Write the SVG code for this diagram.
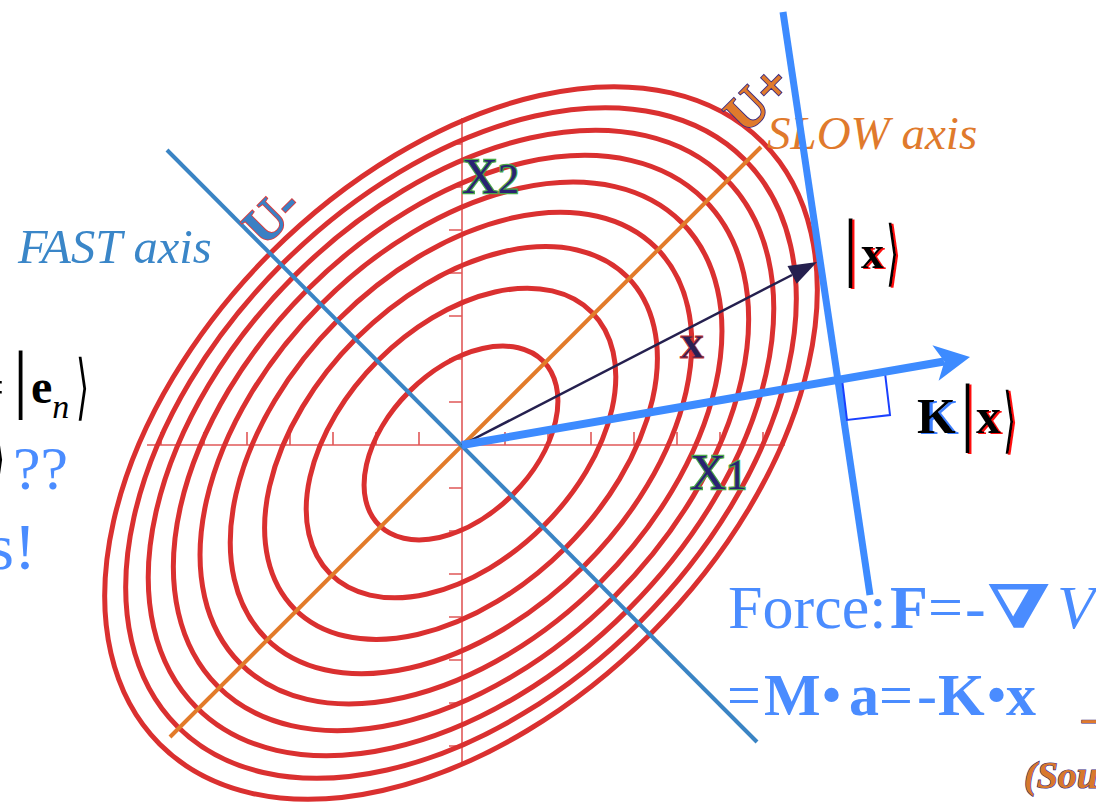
<svg xmlns="http://www.w3.org/2000/svg" width="1096" height="802" viewBox="0 0 1096 802">
<style>
.ring{fill:none;stroke:#da3030;stroke-width:5}
.ax{stroke:#e05858;stroke-width:1.6;fill:none}
.serif{font-family:"Liberation Serif","Times New Roman",serif}
.lbl{font-family:"Liberation Serif","Times New Roman",serif;fill:#2a2272;stroke:#4aa84a;stroke-width:2.4;paint-order:stroke}
.blue{fill:#4a8cff}
.blk{fill:#000}
.br{font-family:"DejaVu Sans","Noto Sans CJK SC",sans-serif}
</style>
<defs>
<filter id="shR" x="-30%" y="-30%" width="160%" height="160%">
<feFlood flood-color="#ff1010"/><feComposite in2="SourceAlpha" operator="in"/><feOffset dx="2" dy="1" result="s"/>
<feMerge><feMergeNode in="s"/><feMergeNode in="SourceGraphic"/></feMerge>
</filter>
<filter id="shB" x="-30%" y="-30%" width="160%" height="160%">
<feFlood flood-color="#3d7fff"/><feComposite in2="SourceAlpha" operator="in"/><feOffset dx="3" dy="1" result="s"/>
<feMerge><feMergeNode in="s"/><feMergeNode in="SourceGraphic"/></feMerge>
</filter>
</defs>

<g id="coordinate-axes">
<line class="ax" x1="147" y1="445" x2="785" y2="445"/>
<line class="ax" x1="462" y1="118" x2="462" y2="765"/>
<path class="ax" d="M161 432V445M204 432V445M247 432V445M290 432V445M333 432V445M376 432V445M419 432V445M505 432V445M548 432V445M591 432V445M634 432V445M677 432V445M720 432V445M763 432V445"/>
<path class="ax" d="M449 144H462M449 187H462M449 230H462M449 273H462M449 316H462M449 359H462M449 402H462M449 488H462M449 531H462M449 574H462M449 617H462M449 660H462M449 703H462M449 746H462"/>
</g>

<g id="contours" transform="translate(461,443) rotate(-45)">
<ellipse class="ring" rx="116" ry="73"/>
<ellipse class="ring" rx="185" ry="117"/>
<ellipse class="ring" rx="235" ry="148"/>
<ellipse class="ring" rx="276" ry="174"/>
<ellipse class="ring" rx="312" ry="197"/>
<ellipse class="ring" rx="344" ry="217"/>
<ellipse class="ring" rx="374" ry="236"/>
<ellipse class="ring" rx="401" ry="253"/>
<ellipse class="ring" rx="426" ry="269"/>
</g>

<g id="slow-axis">
<line x1="170" y1="737" x2="761" y2="147" stroke="#e27b2a" stroke-width="4"/>
<text class="serif" x="767" y="149" font-size="47" font-style="italic" fill="#e07a2c">SLOW axis</text>
<text class="serif" transform="translate(758,99) rotate(-45)" x="0" y="17" text-anchor="middle" font-size="53" font-weight="bold" fill="#e07a2c" stroke="#3a2a80" stroke-width="1.8" paint-order="stroke">U+</text>
</g>

<g id="fast-axis">
<line x1="167" y1="150" x2="757" y2="742" stroke="#3a84c4" stroke-width="4"/>
<text class="serif" x="18" y="263" font-size="48.5" font-style="italic" fill="#3a86c8">FAST axis</text>
<text class="serif" transform="translate(272,216) rotate(-45)" x="0" y="17" text-anchor="middle" font-size="53" font-weight="bold" fill="#3a80c4" stroke="#e03a3a" stroke-width="1.8" paint-order="stroke">U-</text>
</g>

<g id="axis-labels">
<text class="lbl" x="462" y="193"><tspan font-size="50">X</tspan><tspan font-size="42">2</tspan></text>
<text class="lbl" x="690" y="489"><tspan font-size="50">X</tspan><tspan font-size="42">1</tspan></text>
</g>

<g id="tangent-line">
<line x1="783" y1="12" x2="870" y2="595" stroke="#3d8bff" stroke-width="7"/>
<polygon points="842,379 885,373 890,415 847,420" fill="none" stroke="#1a40ff" stroke-width="2"/>
</g>

<g id="connectors">
<line x1="462" y1="445" x2="792" y2="275" stroke="#25204f" stroke-width="2.5"/>
<polygon points="817,262 787.5,265.9 796.7,283.7" fill="#25204f"/>
<line x1="462" y1="445" x2="944" y2="361.5" stroke="#3d8bff" stroke-width="8"/>
<polygon points="970,357 932.4,345.3 944.4,361.4 938.6,380.7" fill="#3d8bff"/>
</g>

<g id="label-x">
<text class="serif" x="680" y="358" font-size="48" font-weight="bold" fill="#2a1f55" stroke="#c23030" stroke-width="0.8">x</text>
</g>

<g id="ket-x" filter="url(#shR)">
<text class="serif blk" x="843" y="272" font-size="76">|</text>
<text class="serif blk" x="861" y="268" font-size="46" font-weight="bold">x</text>
<text class="br blk" transform="translate(886,277) scale(0.6,1.28)" font-size="56">⟩</text>
</g>

<g id="ket-Kx">
<text class="serif blk" x="917" y="433" font-size="50" font-weight="bold" filter="url(#shB)">K</text>
<g filter="url(#shR)">
<text class="serif blk" x="960" y="437" font-size="76">|</text>
<text class="serif blk" x="976" y="433" font-size="50" font-weight="bold">x</text>
<text class="br blk" transform="translate(1003,444) scale(0.6,1.28)" font-size="56">⟩</text>
</g>
</g>

<g id="left-text">
<text class="serif blk" x="-24" y="404" font-size="50">=</text>
<text class="serif blk" x="13" y="404" font-size="76">|</text>
<text class="serif blk" x="31" y="403" font-size="48" font-weight="bold">e<tspan font-size="34" font-style="italic" font-weight="normal" dy="15">n</tspan></text>
<text class="br blk" transform="translate(76,411) scale(0.6,1.28)" font-size="56">⟩</text>
<text class="br blk" transform="translate(-8,482) scale(0.6,1.28)" font-size="56">⟩</text>
<text class="serif blue" x="13" y="489" font-size="62">??</text>
<text class="serif blue" x="36" y="569" font-size="66" text-anchor="end">s!</text>
</g>

<g id="equations" class="serif blue">
<text y="628" font-size="62"><tspan x="728">Force:</tspan><tspan x="890" font-weight="bold">F</tspan><tspan x="928">=</tspan><tspan x="965">-</tspan></text>
<text transform="translate(987,628) scale(1.4,1)" class="blue" font-family="DejaVu Serif" font-weight="bold" font-size="60">∇</text>
<text x="1057" y="628" font-size="62" font-style="italic">V</text>
<text y="715" font-size="60"><tspan x="727">=</tspan><tspan x="764" font-weight="bold">M</tspan><tspan x="821">•</tspan><tspan x="849" font-weight="bold">a</tspan><tspan x="879">=</tspan><tspan x="917">-</tspan><tspan x="938" font-weight="bold">K</tspan><tspan x="986">•</tspan><tspan x="1006" font-weight="bold">x</tspan></text>
</g>

<g id="source-note" class="serif">
<text x="1082" y="731" font-size="40" font-weight="bold" fill="#e07a2c" stroke="#3a2a80" stroke-width="1" paint-order="stroke">–</text>
<text x="1024" y="788" font-size="38" font-weight="bold" font-style="italic" fill="#d8782c" stroke="#3a2a80" stroke-width="1.2" paint-order="stroke">(Sou</text>
</g>
</svg>
